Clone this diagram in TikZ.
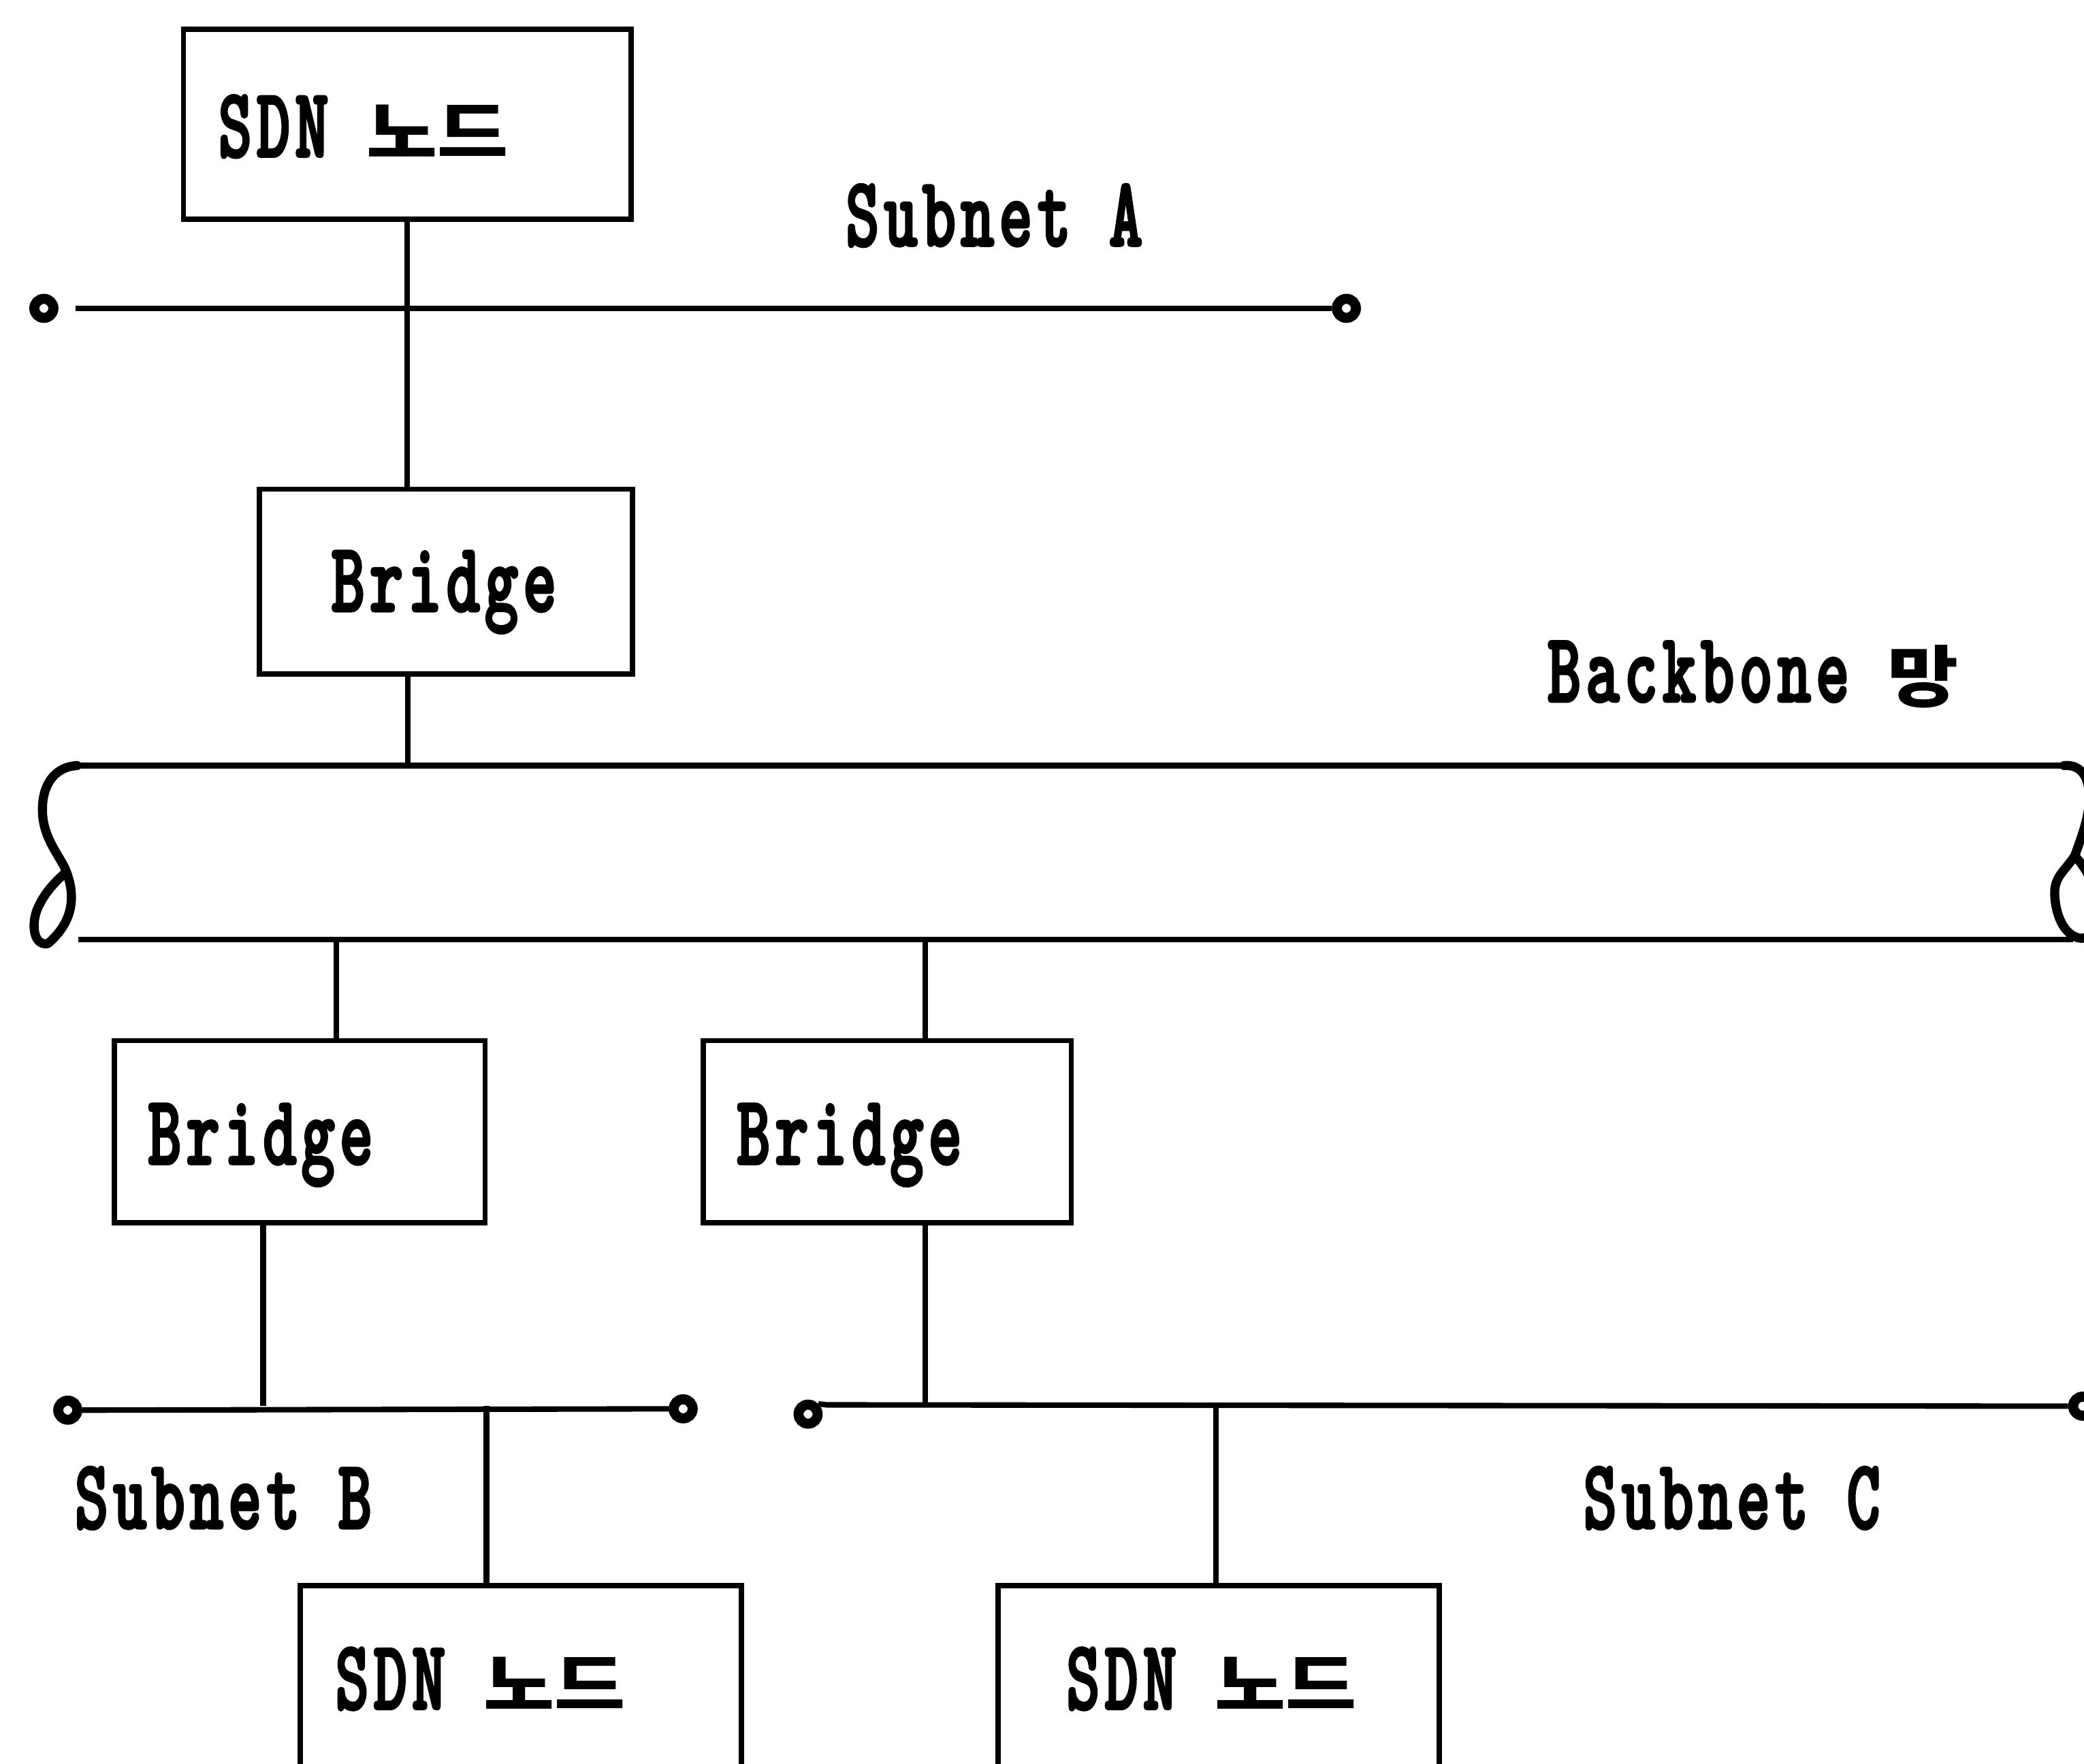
\documentclass[tikz,border=0pt]{standalone}
\usepackage{fontspec}
\newfontfamily\lat{lmmonolt10-bold.otf}[FakeStretch=0.64,FakeBold=2.2,LetterSpace=5]
\newfontfamily\kr{Noto Sans CJK KR}[FakeStretch=1.15]
\newcommand\kor[1]{{\kr\bfseries\fontsize{28pt}{30pt}\selectfont #1}}
\begin{document}
\begin{tikzpicture}[x=0.019522cm,y=-0.019522cm,
  box/.style={draw,line width=2.2pt,inner sep=0pt},
  lab/.style={anchor=base west,inner sep=0pt,font=\lat\fontsize{41.5pt}{44pt}\selectfont},
  wire/.style={line width=2.3pt},
  curl/.style={line width=3.8pt,line cap=round,line join=round},
  term/.style={circle,draw,line width=4.2pt,minimum size=0.28cm,inner sep=0pt}]
\useasboundingbox (0,0) rectangle (1568,1327);
\clip (0,0) rectangle (1568,1327);
\fill[white] (0,0) rectangle (1568,1327);

% boxes
\node[box,minimum width=337*0.019522cm,minimum height=143*0.019522cm] (sdnA) at (306.5,93.5) {};
\node[box,minimum width=281*0.019522cm,minimum height=139*0.019522cm] (brA) at (335.5,437.5) {};
\node[box,minimum width=279*0.019522cm,minimum height=137*0.019522cm] (brB) at (225.5,851.5) {};
\node[box,minimum width=277*0.019522cm,minimum height=137*0.019522cm] (brC) at (667.5,851.5) {};
\node[box,minimum width=332*0.019522cm,minimum height=240*0.019522cm] (sdnB) at (392,1313) {};
\node[box,minimum width=332*0.019522cm,minimum height=240*0.019522cm] (sdnC) at (917,1313) {};

% labels
\node[lab] (tA) at (164,118) {SDN \kor{노드}};
\node[lab] (tB) at (252,1286) {SDN \kor{노드}};
\node[lab] (tC) at (802,1286) {SDN \kor{노드}};
\node[lab] (lbrA) at (249,460) {Bridge};
\node[lab] (lbrB) at (111,876) {Bridge};
\node[lab] (lbrC) at (554,876) {Bridge};
\node[lab] (lsubA) at (636,185) {Subnet A};
\node[lab] (lsubB) at (56,1150) {Subnet B};
\node[lab] (lsubC) at (1191,1150) {Subnet C};
\node[lab] (lbb) at (1164,528) {Backbone \kor{망}};

% subnet A
\node[term] (aL) at (33,232) {};
\node[term] (aR) at (1013,232) {};
\coordinate (aS) at (57,232);
\draw[wire] (aS) -- (aR.west);
\draw[wire] (sdnA.south) -- (sdnA.south |- brA.north);

% backbone
\coordinate (bbTL) at (58,576);
\coordinate (bbTR) at (1553,576);
\coordinate (bbBL) at (59,707);
\coordinate (bbBR) at (1560,707);
\draw[line width=2.3pt] (bbTL) -- (bbTR);
\draw[line width=2.3pt] (bbBL) -- (bbBR);
\draw[curl] (bbTL) .. controls (40,577) and (31,592) .. (32,612)
  .. controls (33,632) and (46,645) .. (50,656)
  .. controls (56,672) and (57,692) .. (36,710)
  .. controls (24,712) and (23,692) .. (30,680)
  .. controls (35,670) and (43,662) .. (50,656);
\draw[curl] (bbTR) .. controls (1566,575) and (1572,585) .. (1572,600)
  .. controls (1572,615) and (1566,630) .. (1561,644)
  .. controls (1553,656) and (1545,660) .. (1546,674)
  .. controls (1547,692) and (1555,705) .. (1566,706)
  .. controls (1582,705) and (1584,668) .. (1561,644);
\coordinate (bbA) at (307,576);
\coordinate (bbB) at (253,707);
\coordinate (bbC) at (696,707);
\draw[wire] (bbA |- brA.south) -- (bbA);
\draw[wire] (bbB) -- (bbB |- brB.north);
\draw[wire] (bbC) -- (bbC |- brC.north);

% subnet B
\node[term] (bL) at (51,1061) {};
\node[term] (bR) at (514,1060) {};
\draw[wire] (bL.east) -- (bR.west);
\coordinate (bJ) at (198,1058);
\draw[wire] (bJ |- brB.south) -- (bJ);
\coordinate (bK) at (366,1058);
\draw[wire] (bK) -- (bK |- sdnB.north);

% subnet C
\node[term] (cL) at (608,1064) {};
\node[term] (cR) at (1567,1058) {};
\coordinate (cS) at (622,1057);
\draw[wire] (cL.north east) -- (cS) -- (cR.west);
\coordinate (cJ) at (696,1057);
\draw[wire] (cJ |- brC.south) -- (cJ);
\coordinate (cK) at (915,1057);
\draw[wire] (cK) -- (cK |- sdnC.north);
\end{tikzpicture}
\end{document}
